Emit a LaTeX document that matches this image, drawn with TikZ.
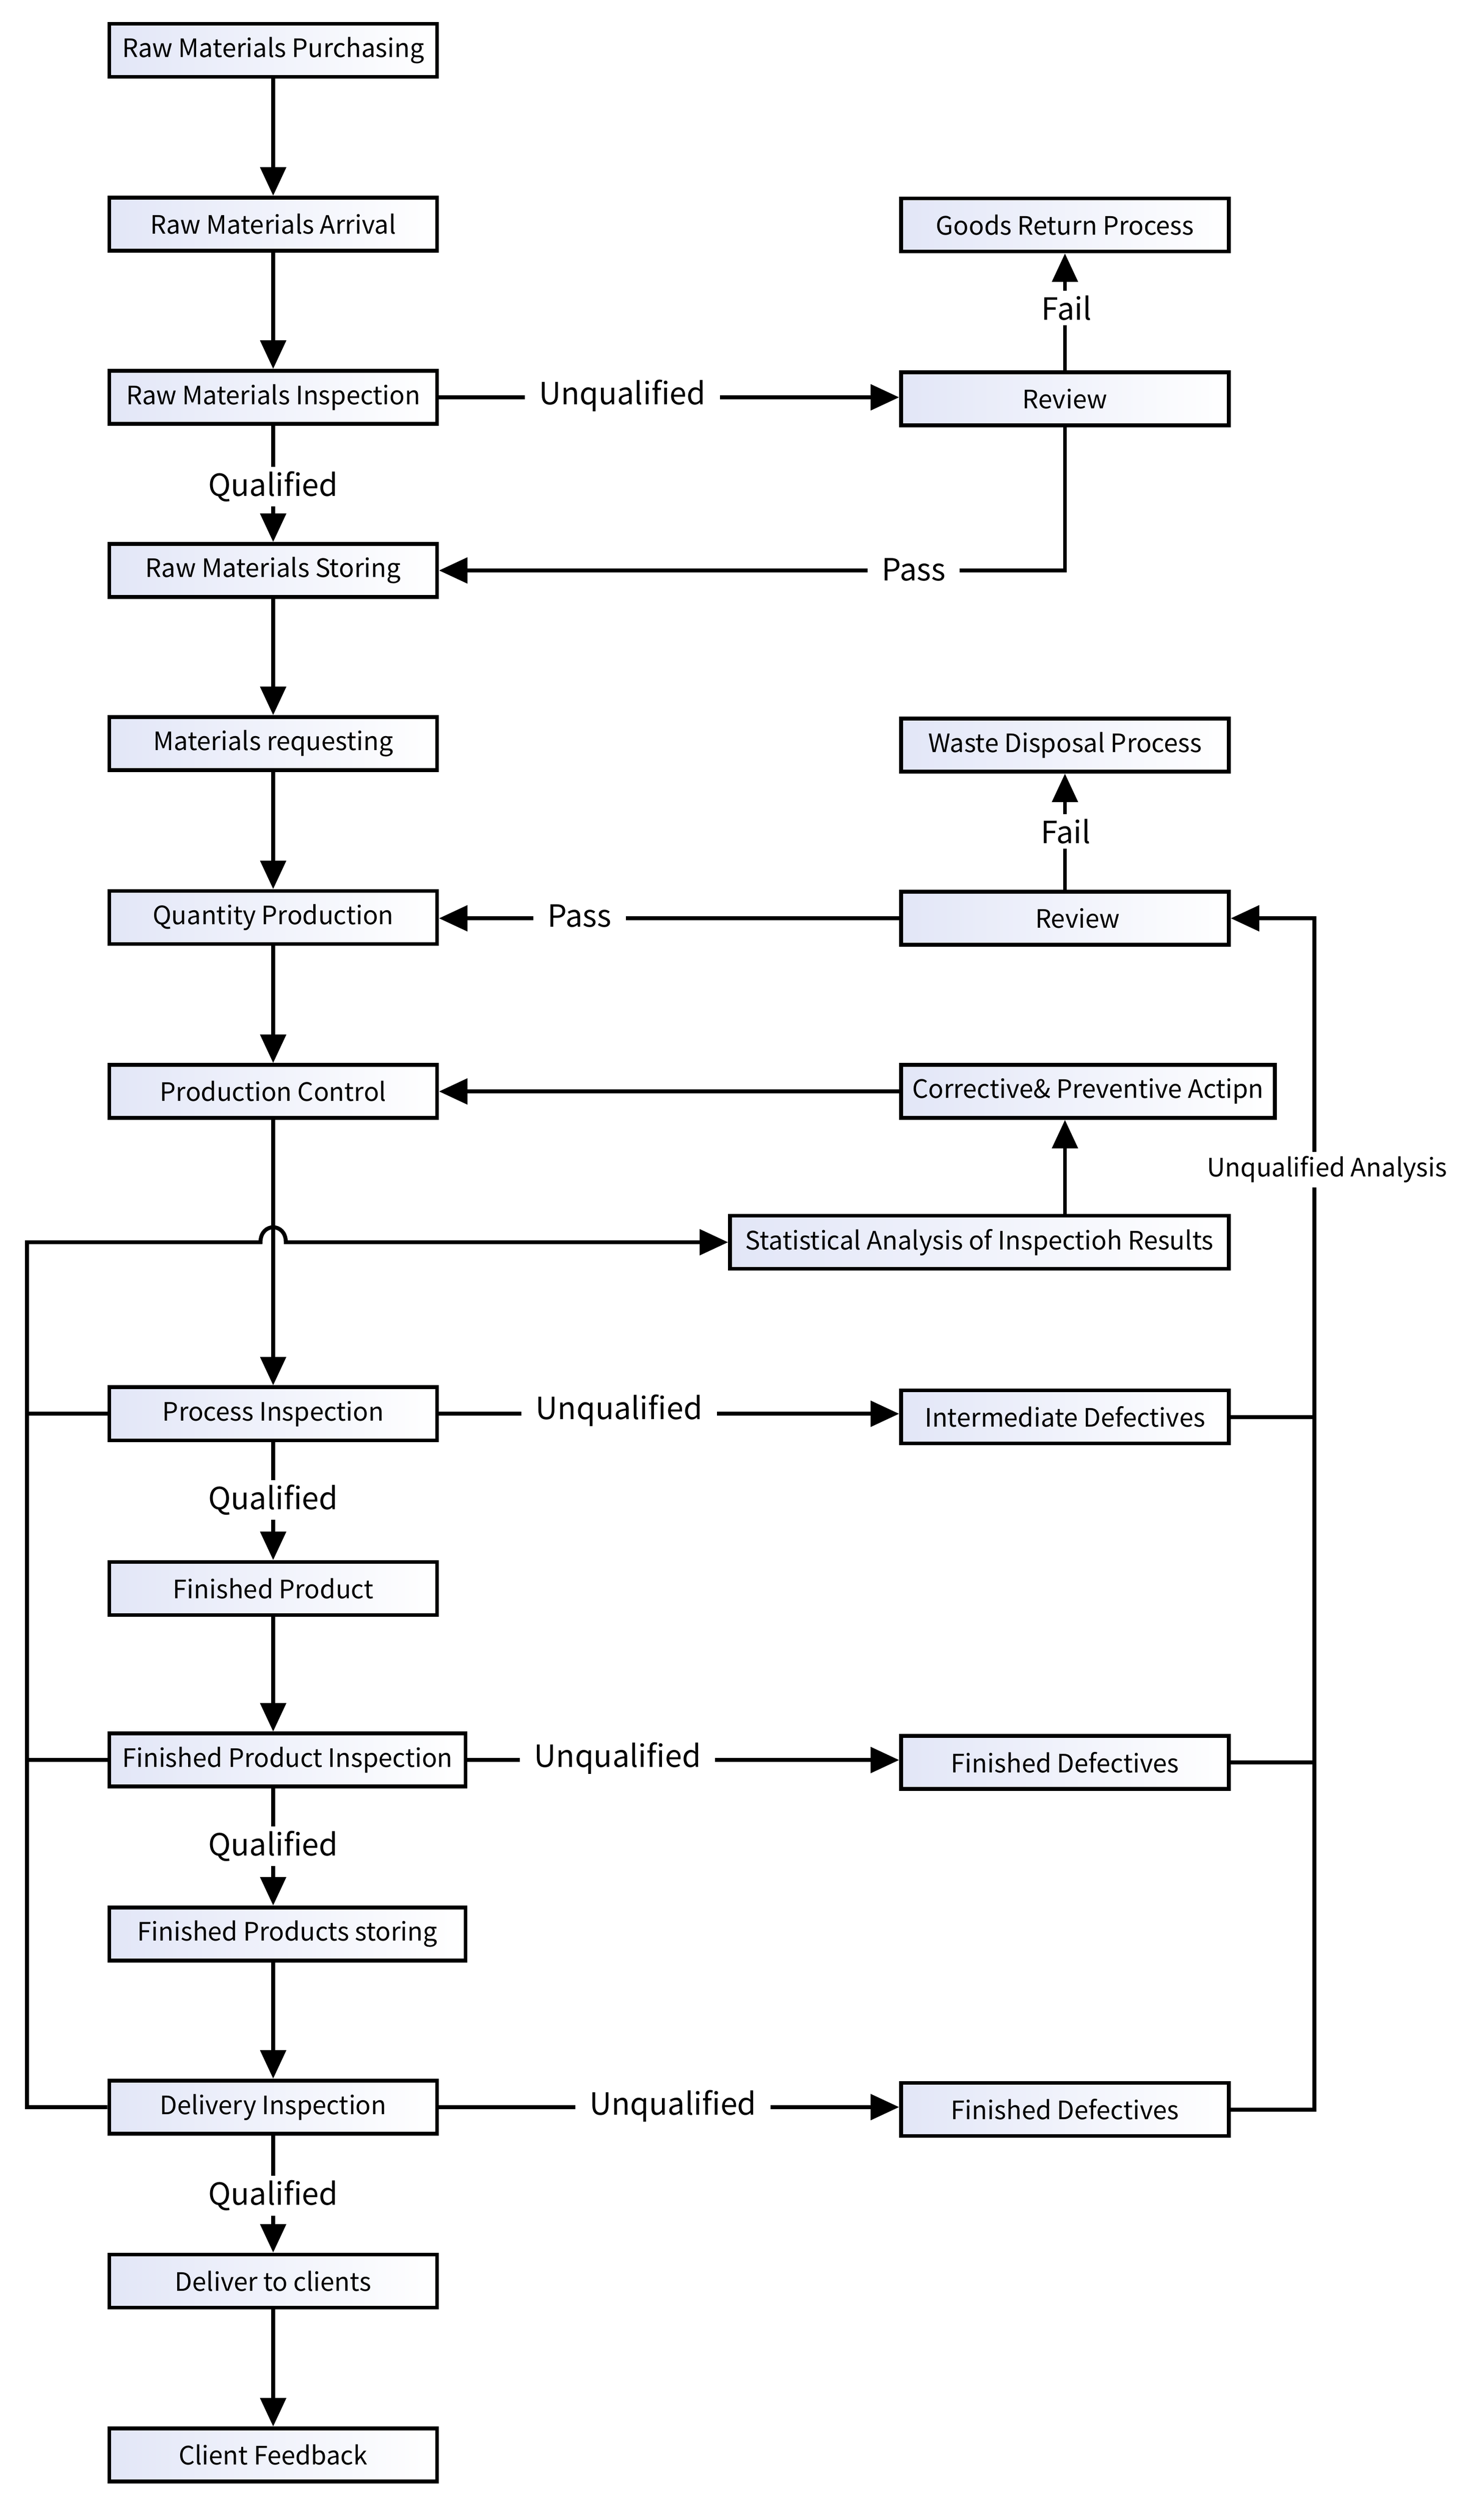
\documentclass[tikz,border=0pt]{standalone}
\usepackage{fontspec}
\setmainfont{Noto Sans CJK SC}
\usetikzlibrary{arrows.meta}
\definecolor{boxshade}{HTML}{E2E6F7}
\begin{document}
\begin{tikzpicture}[x=1pt,y=-1.0075pt,
  box/.style={draw=black, line width=2.4pt, left color=boxshade, right color=white,
    minimum width=207pt, minimum height=33.5pt, inner sep=0pt, font=\fontsize{16}{19}\selectfont},
  widebox/.style={box, minimum width=225pt},
  conn/.style={line width=2.5pt, draw=black},
  arr/.style={conn, -{Triangle[length=18pt,width=16pt]}},
  lbl/.style={fill=white, inner xsep=9pt, inner ysep=3pt, font=\fontsize{19.3}{23}\selectfont},
  slbl/.style={fill=white, inner xsep=7pt, inner ysep=3pt, font=\fontsize{16}{19}\selectfont}]
\useasboundingbox (0,0) rectangle (937,1568);

% left column
\node[box] (rmp) at (172.5,31.5) {Raw Materials Purchasing};
\node[box] (rma) at (172.5,140.5) {Raw Materials Arrival};
\node[box] (rmi) at (172.5,249) {Raw Materials Inspection};
\node[box] (rms) at (172.5,357.5) {Raw Materials Storing};
\node[box] (mr)  at (172.5,466) {Materials requesting};
\node[box] (qp)  at (172.5,575) {Quantity Production};
\node[box] (pc)  at (172.5,684) {Production Control};
\node[box] (pi)  at (172.5,886) {Process Inspection};
\node[box] (fp)  at (172.5,995.5) {Finished Product};
\node[widebox] (fpi) at (181.5,1103) {Finished Product Inspection};
\node[widebox] (fps) at (181.5,1212) {Finished Products storing};
\node[box] (di)  at (172.5,1320.5) {Delivery Inspection};
\node[box] (dtc) at (172.5,1429.5) {Deliver to clients};
\node[box] (cf)  at (172.5,1538.5) {Client Feedback};

% right column
\node[box] (grp)  at (672.5,141) {Goods Return Process};
\node[box] (rev1) at (672.5,250) {Review};
\node[box] (wdp)  at (672.5,467) {Waste Disposal Process};
\node[box] (rev2) at (672.5,575.5) {\hspace*{16pt}Review};
\node[box, minimum width=236pt] (cpa) at (687,684) {Corrective\& Preventive Actipn};
\node[box, minimum width=315pt] (sa) at (618.5,778.5) {Statistical Analysis of Inspectioh Results};
\node[box] (id)  at (672.5,888) {Intermediate Defectives};
\node[box] (fd1) at (672.5,1104.5) {Finished Defectives};
\node[box] (fd2) at (672.5,1322) {Finished Defectives};

\coordinate (L) at (17,0);
\coordinate (R) at (830,0);
\coordinate (H) at (L |- sa.west);
\coordinate (hopA) at (164.5,778.5);
\coordinate (hopB) at (180.5,778.5);

% main chain
\draw[arr] (rmp) -- (rma);
\draw[arr] (rma) -- (rmi);
\draw[arr] (rmi) -- (rms);
\draw[arr] (rms) -- (mr);
\draw[arr] (mr) -- (qp);
\draw[arr] (qp) -- (pc);
\draw[arr] (pc) -- (pi);
\draw[arr] (pi) -- (fp);
\draw[arr] (fp.south) -- (fp.south |- fpi.north);
\draw[arr] (fp.south |- fpi.south) -- (fp.south |- fps.north);
\draw[arr] (fp.south |- fps.south) -- (di.north);
\draw[arr] (di) -- (dtc);
\draw[arr] (dtc) -- (cf);

% raw material review loop
\draw[arr] (rmi.east) -- (rmi.east -| rev1.west);
\draw[arr] (rev1.north) -- (grp.south);
\draw[arr] (rev1.south) |- (rms.east);

% production review loop
\draw[arr] (rev2.north) -- (wdp.south);
\draw[arr] (rev2.west) -- (rev2.west -| qp.east);
\draw[arr] (cpa.west) -- (cpa.west -| pc.east);
\draw[arr] (sa.north -| rev2.south) -- (cpa.south -| rev2.south);

% unqualified branches
\draw[arr] (pi.east) -- (pi.east -| id.west);
\draw[arr] (fpi.east) -- (fpi.east -| fd1.west);
\draw[arr] (di.east) -- (di.east -| fd2.west);

% right bus
\draw[conn] (id.east) -- (id.east -| R);
\draw[conn] (fd1.east) -- (fd1.east -| R);
\draw[arr] (fd2.east) -- (fd2.east -| R) -- (R |- rev2.east) -- (rev2.east);

% left bus
\draw[conn] (pi.west) -- (pi.west -| L);
\draw[conn] (fpi.west) -- (fpi.west -| L);
\draw[arr] (di.west) -- (di.west -| L) -- (H) -- (hopA)
  .. controls (164.5,766) and (180.5,766) .. (hopB) -- (sa.west);

% labels
\node[lbl] (uq1) at (393,248) {Unqualified};
\node[lbl] (q1) at (172.5,305) {Qualified};
\node[lbl] (pass1) at (577,357) {Pass};
\node[lbl] (fail1) at (673.5,193) {Fail};
\node[lbl] (fail2) at (673,521) {Fail};
\node[lbl] (pass2) at (366,574) {Pass};
\node[slbl] (ua) at (838,733) {Unqualified Analysis};
\node[lbl] (uq2) at (391,884) {Unqualified};
\node[lbl] (q2) at (172.5,940) {Qualified};
\node[lbl] (uq3) at (390,1102) {Unqualified};
\node[lbl] (q3) at (172.5,1157) {Qualified};
\node[lbl] (uq4) at (425,1320) {Unqualified};
\node[lbl] (q4) at (172.5,1376) {Qualified};
\end{tikzpicture}
\end{document}
